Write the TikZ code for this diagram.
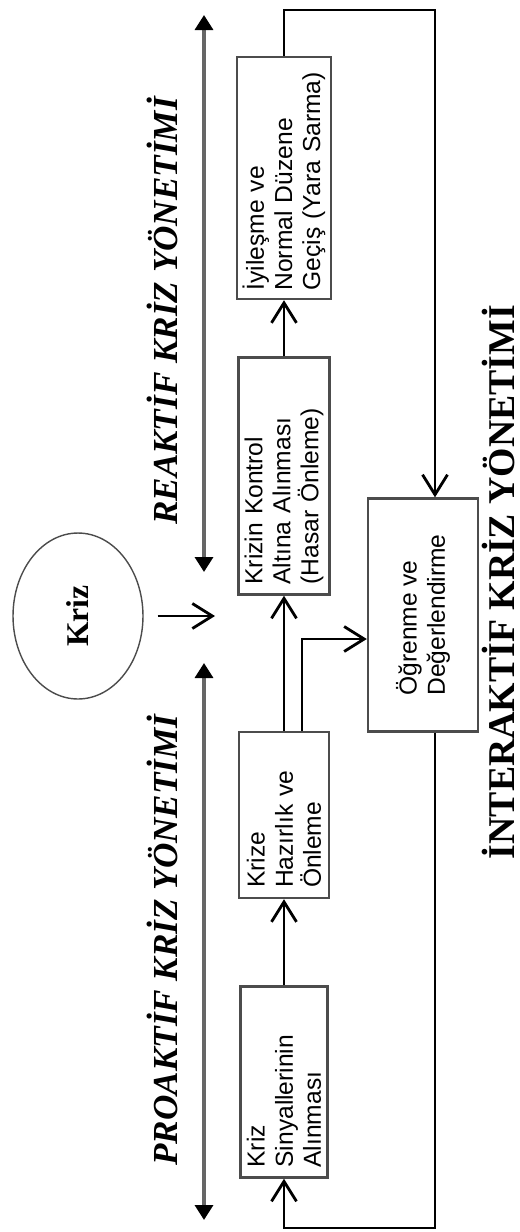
\documentclass[tikz,border=0pt]{standalone}
\usepackage{fontspec}
\setmainfont{Liberation Serif}
\setsansfont{Liberation Sans}
\usetikzlibrary{positioning, calc, arrows.meta, shapes.geometric}

\begin{document}
\begin{tikzpicture}[x=0.02cm, y=-0.02cm, >={Straight Barb[length=4mm,width=5mm]},
    stage/.style={draw=black!70, line width=1.4pt, rotate=90, inner xsep=0.2cm,
      align=left, font=\sffamily\fontsize{14}{16}\selectfont},
    conn/.style={->, line width=1.6pt},
    phase/.style={{Triangle[length=3mm,width=3.6mm,black]}-{Triangle[length=3mm,width=3.6mm,black]},
      line width=1.9pt, black!60},
    header/.style={rotate=90, anchor=base, font=\bfseries\itshape\fontsize{20}{24}\selectfont}]
    \useasboundingbox (0,0) rectangle (520,1232);

    % Phase arrows and titles
    \coordinate (reaTop) at (204,15);
    \coordinate (reaBot) at (204,572);
    \coordinate (proTop) at (204,663);
    \coordinate (proBot) at (204,1220);
    \draw[phase] (reaTop) -- (reaBot);
    \draw[phase] (proTop) -- (proBot);
    \node[header] (reaktif) at (177,311) {REAKTİF KRİZ YÖNETİMİ};
    \node[header] (proaktif) at (177,940) {PROAKTİF KRİZ YÖNETİMİ};
    \node[rotate=90, anchor=base, font=\bfseries\fontsize{21.5}{26}\selectfont] (inter) at (514,582)
      {İNTERAKTİF KRİZ YÖNETİMİ};

    % Crisis
    \node[draw=black!70, ellipse, line width=0.8pt, rotate=90, minimum width=3.32cm, minimum height=2.6cm,
      font=\bfseries\fontsize{18}{20}\selectfont] (kriz) at (78,616) {Kriz};
    \coordinate (krizTip) at (215,616);
    \draw[conn, shorten <=0.28cm] (kriz) -- (krizTip);

    % Stages
    \node[stage, minimum width=3.82cm, minimum height=1.74cm, text width=3.42cm] (b1) at (284,1082)
      {Kriz\\ Sinyallerinin\\ Alınması};
    \node[stage, minimum width=3.32cm, minimum height=1.8cm, text width=2.92cm] (b2) at (284,815)
      {Krize\\ Hazırlık ve\\ Önleme};
    \node[stage, minimum width=4.74cm, minimum height=1.72cm, text width=4.34cm] (b3) at (284,476)
      {Krizin Kontrol\\ Altına Alınması\\ (Hasar Önleme)};
    \node[stage, minimum width=4.84cm, minimum height=1.76cm, text width=4.5cm, inner xsep=0.17cm] (b4) at (284,178)
      {İyileşme ve\\ Normal Düzene\\ Geçiş (Yara Sarma)};
    \node[stage, minimum width=4.66cm, minimum height=2.2cm] (b5) at (423,615)
      {Öğrenme ve\\ Değerlendirme};

    % Connectors
    \draw[conn] (b1) -- (b2);
    \draw[conn] (b2) -- (b3);
    \draw[conn] (b3) -- (b4);
    \draw[conn] ($(b2.east)+(18,0)$) |- ($(b5.north)+(0,24)$);
    \coordinate (topR) at (435,10);
    \coordinate (botR) at (435,1228);
    \draw[conn] (b4.east) |- (topR) -- (topR |- b5.east);
    \draw[conn] (botR |- b5.west) -- (botR) -| (b1.west);
\end{tikzpicture}
\end{document}
